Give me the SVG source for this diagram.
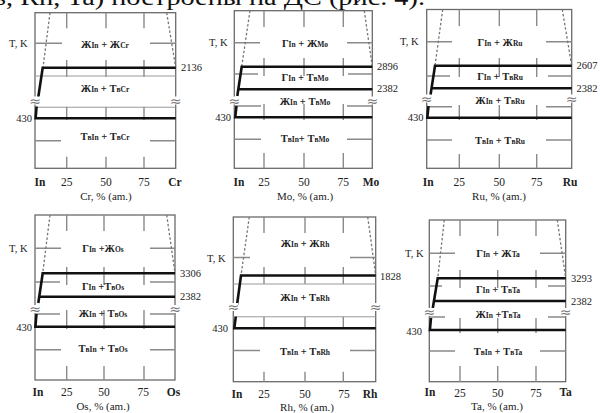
<svg xmlns="http://www.w3.org/2000/svg" width="600" height="413" viewBox="0 0 600 413">
<style>
.fr{fill:none;stroke:#6a6a6a;stroke-width:1.3}
.g{fill:none;stroke:#8a8a8a;stroke-width:1.4}
.gl{fill:none;stroke:#9a9a9a;stroke-width:1.1}
.tk{fill:none;stroke:#111;stroke-width:2.6;stroke-linejoin:miter}
.ds{fill:none;stroke:#777;stroke-width:1.3;stroke-dasharray:2.5 2}
.lb{font-family:"Liberation Serif","Times New Roman",serif;font-size:10.5px;font-weight:bold;text-anchor:middle;fill:#222}
.s{font-size:7.5px}
.v{font-family:"Liberation Serif","Times New Roman",serif;font-size:10.5px;fill:#222}
.e{text-anchor:end}
.ax{font-family:"Liberation Serif","Times New Roman",serif;font-size:11.5px;text-anchor:middle;fill:#222}
.t{font-size:11px}
.b{font-weight:bold}
.br{font-family:"DejaVu Sans",sans-serif;font-size:14px;text-anchor:middle;fill:#777}
.top{font-family:"Liberation Serif","Times New Roman",serif;font-size:24px;fill:#111}
</style>
<text class="top" x="-5" y="4.5" textLength="430" lengthAdjust="spacingAndGlyphs">s, Rh, Ta) построены на ДС (рис. 4).</text>

<g id="panel-cr">
<rect class="fr" x="35" y="12.7" width="140.7" height="155.6"/>
<path class="g" d="M66.7,12.7V28.3M66.7,60V77M66.7,106.7V120M66.7,156.7V168.3M106,12.7V28.3M106,60V77M106,106.7V120M106,156.7V168.3M144,12.7V28.3M144,60V77M144,106.7V120M144,156.7V168.3M35,43.3H62M150,43.3H175.7M35,140.7H61M150,140.7H175.7"/>
<path class="gl" d="M35,76H175.7M35,107.3H175.7"/>
<path class="ds" d="M50,12.7L43,67.7M166.7,12.7L175.7,67.7"/>
<path class="tk" d="M175.7,67.7H42.7L38.3,97M36.6,106.5L35.6,118.3H175.7"/>
<rect x="30" y="96.5" width="10" height="8" fill="#fff"/><rect x="170.7" y="96.5" width="10" height="8" fill="#fff"/>
<text class="br" x="35" y="105.5">≈</text><text class="br" x="175.7" y="105.5">≈</text>
<text class="lb" x="105" y="48">Ж<tspan class="s">In</tspan> + Ж<tspan class="s">Cr</tspan></text>
<text class="lb" x="105" y="92">Ж<tspan class="s">In</tspan> + Т<tspan class="s">вCr</tspan></text>
<text class="lb" x="105" y="140">Т<tspan class="s">вIn</tspan> + Т<tspan class="s">вCr</tspan></text>
<text class="v" x="181" y="71">2136</text>
<text class="v e" x="32" y="121.5">430</text>
<text class="v" x="9" y="46.5">T, K</text>
<text class="ax b" x="40" y="186">In</text><text class="ax" x="66.7" y="186">25</text><text class="ax" x="106" y="186">50</text><text class="ax" x="144" y="186">75</text><text class="ax b" x="175" y="186">Cr</text>
<text class="ax t" x="106" y="199.5">Cr, % (am.)</text>
</g>

<g id="panel-mo">
<rect class="fr" x="234.3" y="10.7" width="138" height="157.6"/>
<path class="g" d="M264,10.7V27M264,58V76M264,104V120M264,153V168.3M304,10.7V27M304,58V76M304,104V120M304,153V168.3M343.3,10.7V27M343.3,58V76M343.3,104V120M343.3,153V168.3M234.3,42.7H260M347,42.7H372.3M234.3,74H258M348,74H372.3M234.3,106H261M347,106H372.3M234.3,139.3H261M347,139.3H372.3"/>
<path class="ds" d="M250,10.7L241.7,66.7M364.3,10.7L372.3,66.7"/>
<path class="tk" d="M372.3,66.7H241.7L237.3,96M238.3,89.3H372.3M236.5,106L235.2,117.3H372.3"/>
<rect x="229.3" y="96.5" width="10" height="8" fill="#fff"/><rect x="367.3" y="96.5" width="10" height="8" fill="#fff"/>
<text class="br" x="234.3" y="105.5">≈</text><text class="br" x="372.3" y="105.5">≈</text>
<text class="lb" x="305" y="47">Г<tspan class="s">In</tspan> + Ж<tspan class="s">Mo</tspan></text>
<text class="lb" x="305" y="80.5">Г<tspan class="s">In</tspan> + Т<tspan class="s">вMo</tspan></text>
<text class="lb" x="305" y="105">Ж<tspan class="s">In</tspan> + Т<tspan class="s">вMo</tspan></text>
<text class="lb" x="305" y="141.5">Т<tspan class="s">вIn</tspan>+ Т<tspan class="s">вMo</tspan></text>
<text class="v" x="377" y="69.5">2896</text>
<text class="v" x="377" y="92">2382</text>
<text class="v e" x="231" y="121">430</text>
<text class="v" x="209" y="46">T, K</text>
<text class="ax b" x="239" y="186">In</text><text class="ax" x="264" y="186">25</text><text class="ax" x="304" y="186">50</text><text class="ax" x="343.3" y="186">75</text><text class="ax b" x="371" y="186">Mo</text>
<text class="ax t" x="305" y="199.5">Mo, % (am.)</text>
</g>

<g id="panel-ru">
<rect class="fr" x="426.7" y="9.5" width="145" height="158.8"/>
<path class="g" d="M459.3,9.5V26M459.3,58V77M459.3,105V120M459.3,154V168.3M499.3,9.5V26M499.3,58V77M499.3,105V120M499.3,154V168.3M536.7,9.5V26M536.7,58V77M536.7,105V120M536.7,154V168.3M426.7,41.7H452M546,41.7H571.7M426.7,76H450M548,76H571.7M426.7,106.7H452M546,106.7H571.7M426.7,140H452M546,140H571.7"/>
<path class="ds" d="M442.7,9.5L435,65.7M562.3,9.5L571.7,65.7"/>
<path class="tk" d="M571.7,65.7H435L430.5,95M431,88.3H571.7M428.5,106L427.3,117.7H571.7"/>
<rect x="421.7" y="94.5" width="10" height="8" fill="#fff"/><rect x="566.7" y="94.5" width="10" height="8" fill="#fff"/>
<text class="br" x="426.7" y="103.5">≈</text><text class="br" x="571.7" y="103.5">≈</text>
<text class="lb" x="500" y="46">Г<tspan class="s">In</tspan> + Ж<tspan class="s">Ru</tspan></text>
<text class="lb" x="500" y="79.5">Г<tspan class="s">In</tspan> + Т<tspan class="s">вRu</tspan></text>
<text class="lb" x="500" y="103.5">Ж<tspan class="s">In</tspan> + Т<tspan class="s">вRu</tspan></text>
<text class="lb" x="500" y="143.5">Т<tspan class="s">вIn</tspan> + Т<tspan class="s">вRu</tspan></text>
<text class="v" x="576.5" y="69">2607</text>
<text class="v" x="576.5" y="91.5">2382</text>
<text class="v e" x="423.5" y="121">430</text>
<text class="v" x="400" y="45">T, K</text>
<text class="ax b" x="428.3" y="186">In</text><text class="ax" x="459.3" y="186">25</text><text class="ax" x="499.3" y="186">50</text><text class="ax" x="536.7" y="186">75</text><text class="ax b" x="570" y="186">Ru</text>
<text class="ax t" x="499" y="199.5">Ru, % (am.)</text>
</g>

<g id="panel-os">
<rect class="fr" x="35" y="215" width="140" height="165"/>
<path class="g" d="M66.7,215V231M66.7,267V285M66.7,310V329M66.7,366V380M104,215V231M104,267V285M104,310V329M104,366V380M144,215V231M144,267V285M144,310V329M144,366V380M35,248.3H61M150,248.3H175M35,282H60M150,282H175M35,314H60M150,314H175M35,349.7H61M150,349.7H175"/>
<path class="ds" d="M50,215L42.7,273.3M166.7,215L175,273.3"/>
<path class="tk" d="M175,273.3H42.7L38.3,303M40,296.7H175M36.5,314L35.4,326.7H175"/>
<rect x="30" y="305" width="10" height="8" fill="#fff"/><rect x="170" y="305" width="10" height="8" fill="#fff"/>
<text class="br" x="35" y="314">≈</text><text class="br" x="175" y="314">≈</text>
<text class="lb" x="103" y="252">Г<tspan class="s">In</tspan> +Ж<tspan class="s">Os</tspan></text>
<text class="lb" x="103" y="289.5">Г<tspan class="s">In</tspan> +Т<tspan class="s">вOs</tspan></text>
<text class="lb" x="103" y="317">Ж<tspan class="s">In</tspan> + Т<tspan class="s">вOs</tspan></text>
<text class="lb" x="103" y="352">Т<tspan class="s">вIn</tspan> + Т<tspan class="s">вOs</tspan></text>
<text class="v" x="180" y="277">3306</text>
<text class="v" x="180" y="299.5">2382</text>
<text class="v e" x="32" y="330.5">430</text>
<text class="v" x="9" y="252">T, K</text>
<text class="ax b" x="38" y="396">In</text><text class="ax" x="66.7" y="396">25</text><text class="ax" x="104" y="396">50</text><text class="ax" x="143.3" y="396">75</text><text class="ax b" x="173.5" y="396">Os</text>
<text class="ax t" x="103" y="409.5">Os, % (am.)</text>
</g>

<g id="panel-rh">
<rect class="fr" x="233.3" y="217" width="142.4" height="164.7"/>
<path class="g" d="M264,217V233M264,267V284M264,316.7V329M264,371.7V381.7M305,217V233M305,267V284M305,316.7V329M305,371.7V381.7M343.3,217V233M343.3,267V284M343.3,316.7V329M343.3,371.7V381.7M233.3,257.5H250M350,257.5H375.7M233.3,350.5H260M350,350.5H375.7"/>
<path class="gl" d="M233.3,284H375.7M233.3,316.7H375.7"/>
<path class="ds" d="M249.3,217L241,275.5M367.7,217L375.7,275.5"/>
<path class="tk" d="M375.7,275.5H241L237,305M235.8,316.7L234.3,328.3H375.7"/>
<rect x="228.3" y="303" width="10" height="8" fill="#fff"/><rect x="370.7" y="303" width="10" height="8" fill="#fff"/>
<text class="br" x="233.3" y="312">≈</text><text class="br" x="375.7" y="312">≈</text>
<text class="lb" x="305" y="247">Ж<tspan class="s">In</tspan> + Ж<tspan class="s">Rh</tspan></text>
<text class="lb" x="305" y="301">Ж<tspan class="s">In</tspan> + Т<tspan class="s">вRh</tspan></text>
<text class="lb" x="305" y="354.5">Т<tspan class="s">вIn</tspan> + Т<tspan class="s">вRh</tspan></text>
<text class="v" x="380" y="279.5">1828</text>
<text class="v e" x="228" y="332">430</text>
<text class="v" x="207" y="261.5">T, K</text>
<text class="ax b" x="237" y="397.5">In</text><text class="ax" x="264" y="397.5">25</text><text class="ax" x="305" y="397.5">50</text><text class="ax" x="344" y="397.5">75</text><text class="ax b" x="370" y="397.5">Rh</text>
<text class="ax t" x="307" y="411">Rh, % (am.)</text>
</g>

<g id="panel-ta">
<rect class="fr" x="429.3" y="220" width="136.4" height="161.7"/>
<path class="g" d="M460,220V236M460,270V288M460,318V333M460,366V381.7M497.7,220V236M497.7,270V288M497.7,318V333M497.7,366V381.7M536,220V236M536,270V288M536,318V333M536,366V381.7M429.3,253.3H455M540,253.3H565.7M429.3,286H442M548,286H565.7M429.3,317H445M548,317H565.7M429.3,351H455M540,351H565.7"/>
<path class="ds" d="M444.3,220L437.7,278.3M557.3,220L565.7,278.3"/>
<path class="tk" d="M565.7,278.3H437.7L432.8,308M434.3,301H565.7M431,318L429.9,330H565.7"/>
<rect x="424.3" y="308" width="10" height="8" fill="#fff"/><rect x="560.7" y="308" width="10" height="8" fill="#fff"/>
<text class="br" x="429.3" y="317">≈</text><text class="br" x="565.7" y="317">≈</text>
<text class="lb" x="498" y="257">Г<tspan class="s">In</tspan> + Ж<tspan class="s">Ta</tspan></text>
<text class="lb" x="498" y="292.5">Г<tspan class="s">In</tspan> + Т<tspan class="s">вTa</tspan></text>
<text class="lb" x="498" y="317.5">Ж<tspan class="s">In</tspan> +Т<tspan class="s">вTa</tspan></text>
<text class="lb" x="498" y="354.5">Т<tspan class="s">вIn</tspan> + Т<tspan class="s">вTa</tspan></text>
<text class="v" x="571" y="282">3293</text>
<text class="v" x="571" y="305">2382</text>
<text class="v e" x="422" y="334.5">430</text>
<text class="v" x="405" y="256.5">T, K</text>
<text class="ax b" x="430" y="396">In</text><text class="ax" x="460" y="396.5">25</text><text class="ax" x="497.7" y="396.5">50</text><text class="ax" x="536" y="396.5">75</text><text class="ax b" x="565.7" y="396">Ta</text>
<text class="ax t" x="497" y="409.5">Ta, % (am.)</text>
</g>
</svg>
